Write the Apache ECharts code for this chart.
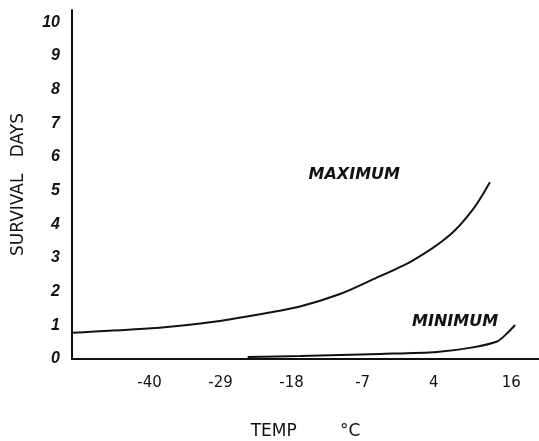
<!DOCTYPE html>
<html>
<head>
<meta charset="utf-8">
<script src="https://cdn.jsdelivr.net/npm/echarts@6/dist/echarts.min.js"></script>
<style>html,body{margin:0;padding:0;background:#fff;}#c{width:539px;height:441px;}</style>
</head>
<body>
<div id="c"></div>
<script>
// Tick labels (°C)
const xTicks = [-40, -29, -18, -7, 4, 16];
const yTicks = [0, 1, 2, 3, 4, 5, 6, 7, 8, 9, 10];
// Maximum survival (temp °C, days)
const maxTemp = [-51.9, -41.5, -35.3, -29.1, -21.4, -16.7, -10.5, -5.9, 0.8, 6.5, 10.1, 12.7];
const maxDays = [0.78, 0.89, 0.99, 1.13, 1.38, 1.56, 1.93, 2.32, 2.93, 3.68, 4.45, 5.25];
// Minimum survival
const minTemp = [-24.8, -16.7, -4.3, 4.5, 9.6, 13.8, 15.4, 16.6];
const minDays = [0.06, 0.09, 0.15, 0.21, 0.33, 0.52, 0.77, 1.01];
// Curve labels [temp, days]
const labelNames = ['MAXIMUM', 'MINIMUM'];
const labelPos = [[-8.3, 5.46], [7.3, 1.10]];

const zip = (a, b) => a.map((v, i) => [v, b[i]]);
const chart = echarts.init(document.getElementById('c'));
const labelFont = {fontFamily: 'DejaVu Sans', fontWeight: 'bold', fontStyle: 'italic', fontSize: 16, color: '#111'};
chart.setOption({
  animation: false,
  grid: {left: 72, right: 0, top: 10, bottom: 82, outerBoundsMode: 'none', containLabel: false},
  xAxis: {
    type: 'value', min: -52, max: 20.3,
    name: 'TEMP        \u00B0C', nameLocation: 'middle', nameGap: 64,
    nameTextStyle: {fontFamily: 'DejaVu Sans', fontSize: 17, color: '#111'},
    axisLine: {onZero: false, lineStyle: {color: '#111', width: 2}},
    axisTick: {show: false}, splitLine: {show: false},
    axisLabel: {customValues: xTicks, margin: 17, fontFamily: 'DejaVu Sans', fontSize: 15, color: '#111'}
  },
  yAxis: {
    type: 'value', min: 0, max: 10.36, interval: 1,
    name: 'SURVIVAL   DAYS', nameLocation: 'middle', nameGap: 45, nameRotate: 90,
    nameTextStyle: {fontFamily: 'DejaVu Sans', fontSize: 17, color: '#111'},
    axisLine: {show: true, onZero: false, lineStyle: {color: '#111', width: 2}},
    axisTick: {show: false}, splitLine: {show: false},
    axisLabel: {customValues: yTicks, margin: 12, fontFamily: 'Liberation Sans', fontWeight: 'bold', fontStyle: 'italic', fontSize: 16, color: '#111'}
  },
  series: [
    {type: 'line', data: zip(maxTemp, maxDays), smooth: 0.3, symbol: 'none',
     lineStyle: {color: '#111', width: 2},
     markPoint: {symbol: 'circle', symbolSize: 0, data: [{coord: labelPos[0], value: labelNames[0]}],
       label: Object.assign({show: true, formatter: labelNames[0]}, labelFont)}},
    {type: 'line', data: zip(minTemp, minDays), smooth: 0.3, symbol: 'none',
     lineStyle: {color: '#111', width: 2},
     markPoint: {symbol: 'circle', symbolSize: 0, data: [{coord: labelPos[1], value: labelNames[1]}],
       label: Object.assign({show: true, formatter: labelNames[1]}, labelFont)}}
  ]
});
</script>
</body>
</html>
